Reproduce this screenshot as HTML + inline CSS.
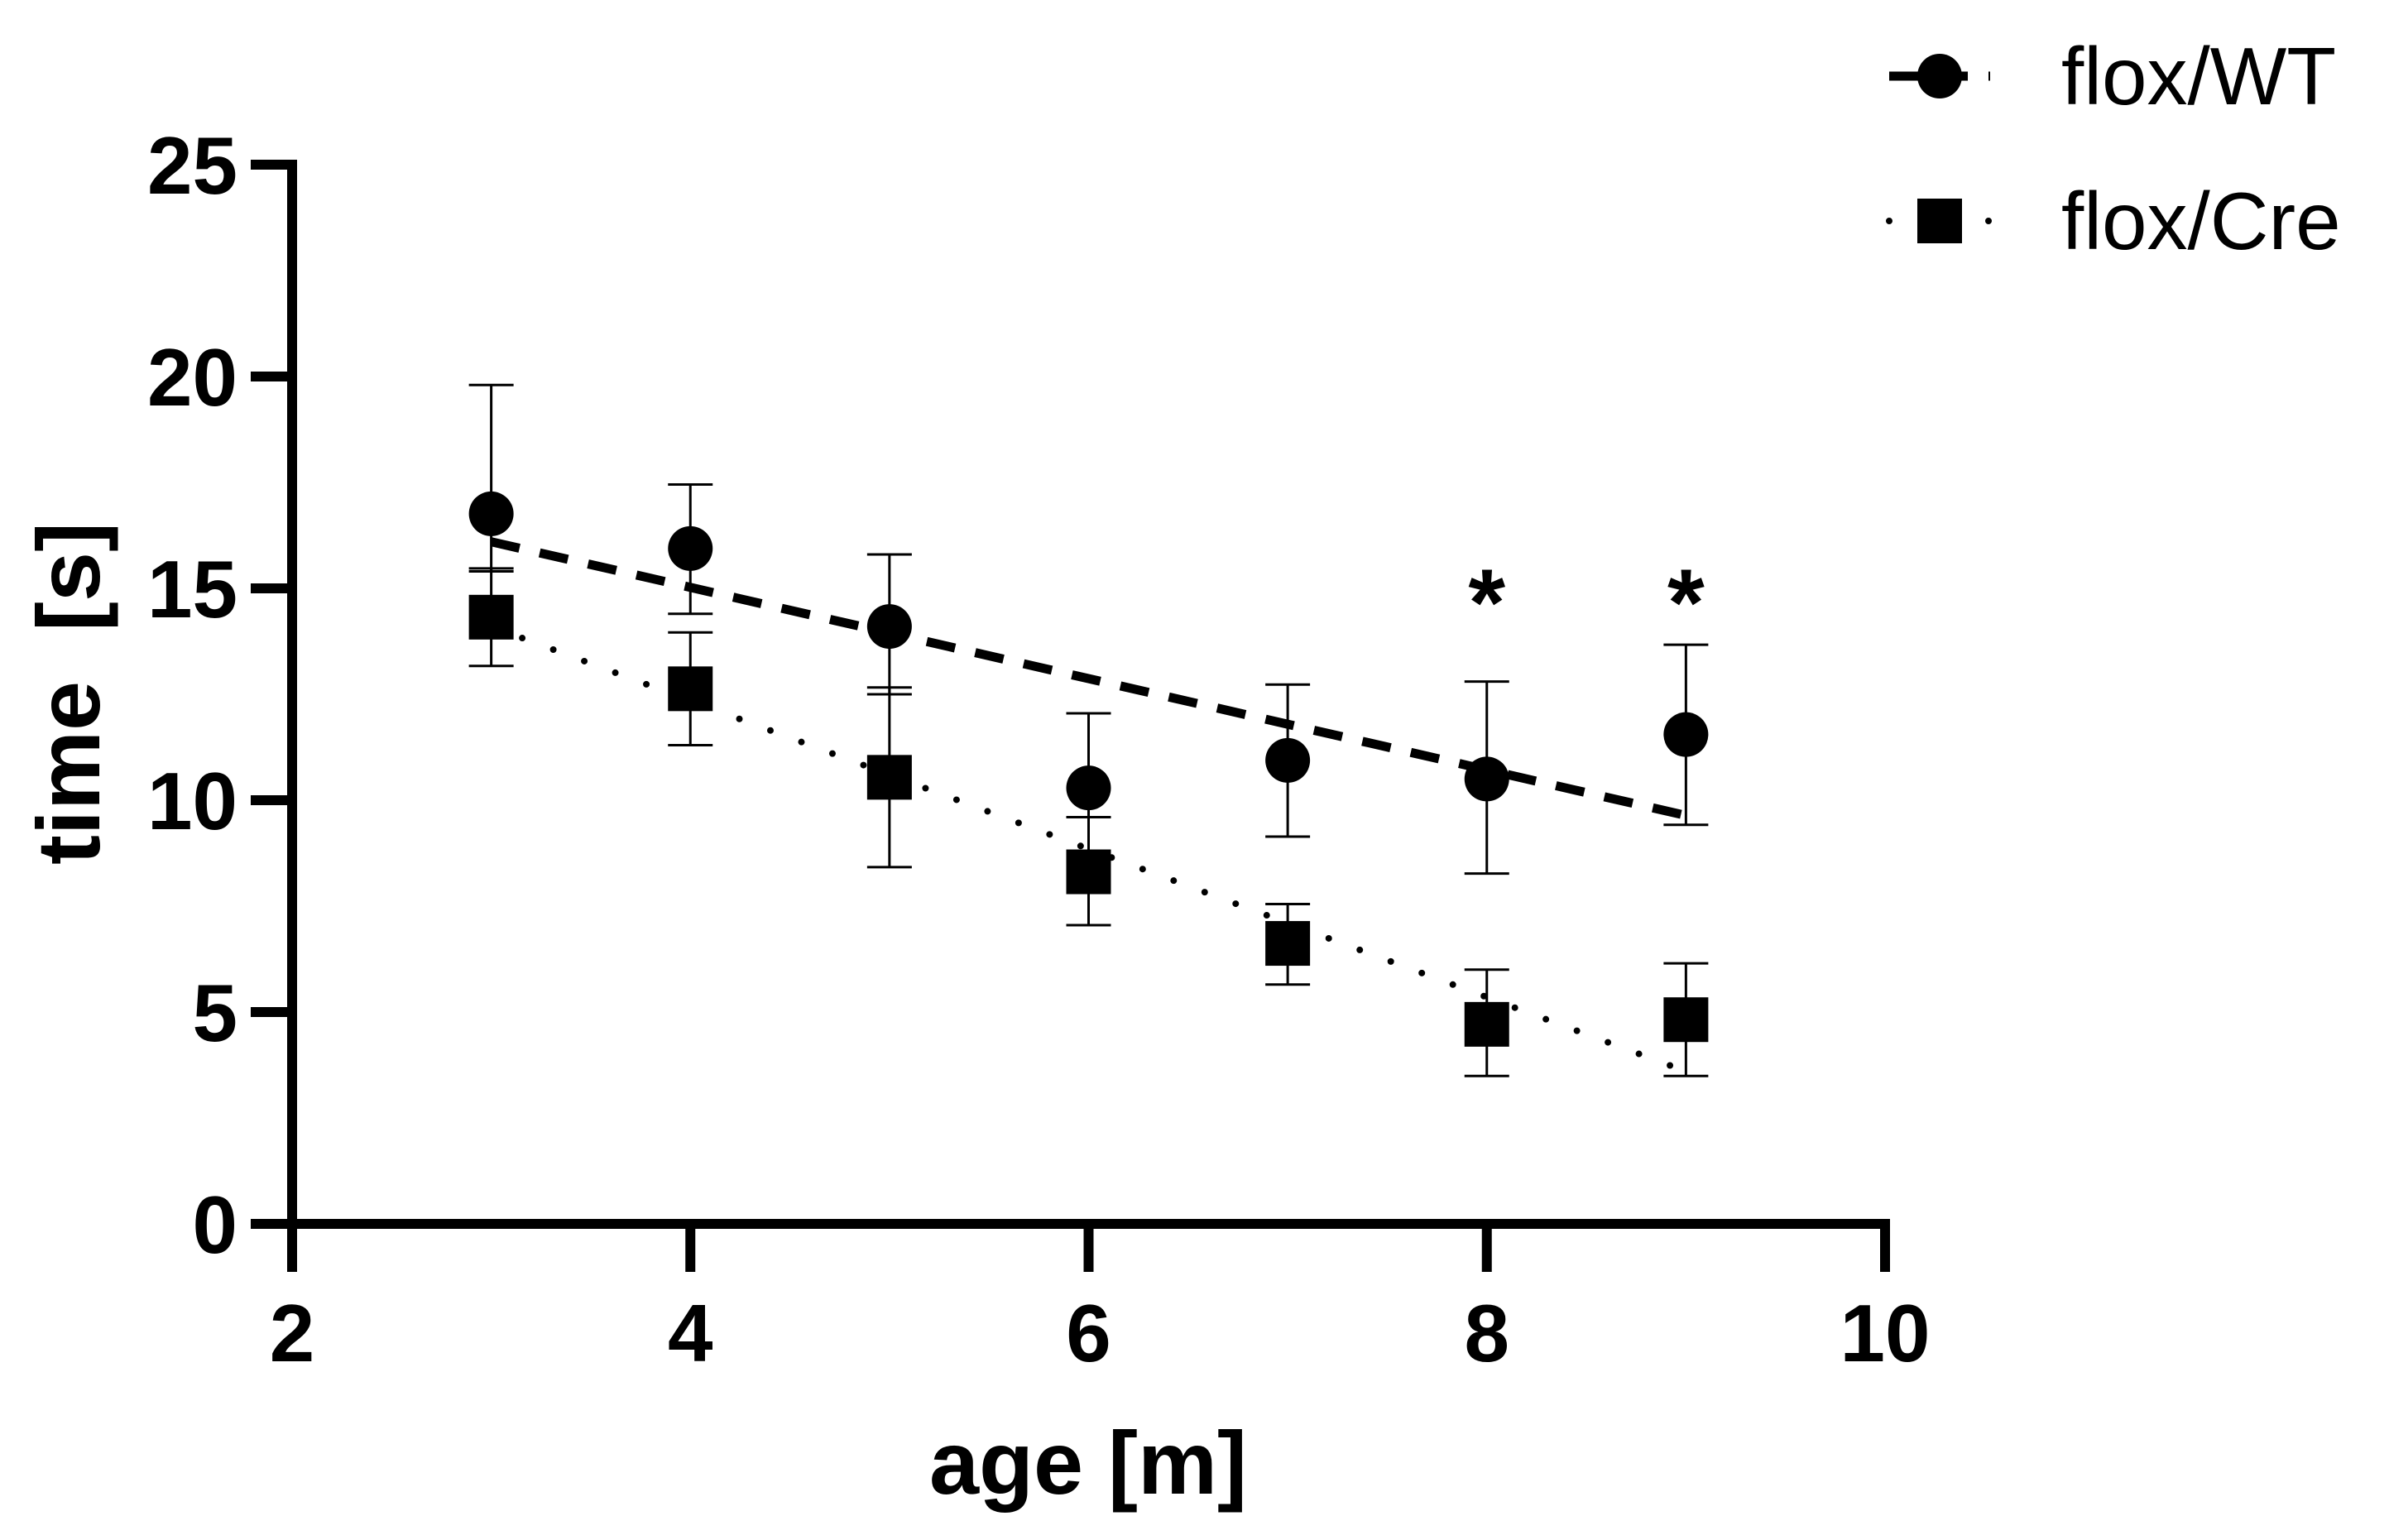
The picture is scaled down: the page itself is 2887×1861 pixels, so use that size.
<!DOCTYPE html>
<html><head><meta charset="utf-8"><style>
html,body{margin:0;padding:0;background:#fff;}
svg{display:block;font-family:"Liberation Sans",Arial,sans-serif;}
</style></head><body>
<svg id="chart" width="2887" height="1861" viewBox="0 0 2887 1861" xmlns="http://www.w3.org/2000/svg">
<g id="axes"></g>
<g id="plot"></g>
<g id="legend">
  <line x1="2283" y1="92" x2="2405" y2="92" stroke="#000" stroke-width="11" stroke-dasharray="35,25"/>
  <circle cx="2344" cy="92" r="27" fill="#000"/>
  <text x="2491" y="126" font-size="98">flox/WT</text>
  <line x1="2283" y1="267" x2="2405" y2="267" stroke="#000" stroke-width="8" stroke-dasharray="0,40" stroke-linecap="round"/>
  <rect x="2317" y="240" width="54" height="54" fill="#000"/>
  <text x="2491" y="301" font-size="98">flox/Cre</text>
</g>
</svg>
<script>
const ages = [3,4,5,6,7,8,9];
const wtMean = [16.76,15.94,14.1,10.29,10.94,10.5,11.55];
const wtUpper = [19.8,17.45,15.8,12.05,12.73,12.8,13.67];
const wtLower = [15.4,14.4,12.5,8.56,9.14,8.27,9.42];
const creMean = [14.32,12.63,10.54,8.31,6.62,4.71,4.82];
const creUpper = [15.47,13.96,12.66,9.6,7.55,6.0,6.15];
const creLower = [13.17,11.3,8.42,7.05,5.65,3.49,3.49];
const wtFit = [16.1,9.64];
const creFit = [14.1,3.6];
const fitX = [3,9];
const sigAges = [8,9];
const xTicks = [2,4,6,8,10];
const yTicks = [0,5,10,15,20,25];

const NS="http://www.w3.org/2000/svg";
const X0=353,X1=2278,Y0=1479,Y1=199;
const xs=v=>X0+(v-2)/8*(X1-X0);
const ys=v=>Y0-(v/25)*(Y0-Y1);
function mk(tag,parent,attrs){const e=document.createElementNS(NS,tag);for(const k in attrs)e.setAttribute(k,attrs[k]);parent.appendChild(e);return e;}
const axes=document.getElementById('axes'), plot=document.getElementById('plot');

let e=mk('line',axes,{x1:X0,y1:Y1-6,x2:X0,y2:Y0+6,stroke:'#000','stroke-width':12});


e=mk('line',axes,{x1:X0-6,y1:Y0,x2:X1+6,y2:Y0,stroke:'#000','stroke-width':12});


yTicks.forEach(t=>{
  let l=mk('line',axes,{x1:X0-50,y1:ys(t),x2:X0,y2:ys(t),stroke:'#000','stroke-width':12});
  
  
  let tx=mk('text',axes,{x:X0-66,y:ys(t)+35,'font-size':98,'font-weight':'bold','text-anchor':'end'});
  tx.textContent=t;
  
  
});
xTicks.forEach(t=>{
  let l=mk('line',axes,{x1:xs(t),y1:Y0,x2:xs(t),y2:Y0+58,stroke:'#000','stroke-width':12});
  
  
  let tx=mk('text',axes,{x:xs(t),y:1645,'font-size':98,'font-weight':'bold','text-anchor':'middle'});
  tx.textContent=t;
  
  
});
e=mk('text',axes,{x:1315,y:1805,'font-size':108,'font-weight':'bold','text-anchor':'middle'});
e.textContent='age [m]';


e=mk('text',axes,{x:0,y:0,'font-size':108,'font-weight':'bold','text-anchor':'middle',transform:'translate(120,838) rotate(-90)',style:'white-space:pre'});
e.textContent='time  [s]';



function errbars(mean,up,lo,name){
  ages.forEach((a,i)=>{
    const x=xs(a);
    let g=mk('g',plot,{stroke:'#000','stroke-width':3});
    
    
    mk('line',g,{x1:x,y1:ys(up[i]),x2:x,y2:ys(lo[i])});
    mk('line',g,{x1:x-27,y1:ys(up[i]),x2:x+27,y2:ys(up[i])});
    mk('line',g,{x1:x-27,y1:ys(lo[i]),x2:x+27,y2:ys(lo[i])});
  });
}
errbars(wtMean,wtUpper,wtLower,'wt');
errbars(creMean,creUpper,creLower,'cre');

e=mk('line',plot,{x1:xs(fitX[0]),y1:ys(wtFit[0]),x2:xs(fitX[1]),y2:ys(wtFit[1]),stroke:'#000','stroke-width':11,'stroke-dasharray':'35,25'});


e=mk('line',plot,{x1:xs(fitX[0]),y1:ys(creFit[0]),x2:xs(fitX[1]),y2:ys(creFit[1]),stroke:'#000','stroke-width':8,'stroke-dasharray':'0,40','stroke-linecap':'round'});



ages.forEach((a,i)=>{
  let c=mk('circle',plot,{cx:xs(a),cy:ys(wtMean[i]),r:27,fill:'#000'});
  
  
  let r=mk('rect',plot,{x:xs(a)-27,y:ys(creMean[i])-27,width:54,height:54,fill:'#000'});
  
  
});
sigAges.forEach(a=>{
  let t=mk('text',plot,{x:xs(a),y:768,'font-size':115,'font-weight':'bold','text-anchor':'middle'});
  t.textContent='*';
  
  
});
</script>
</body></html>
